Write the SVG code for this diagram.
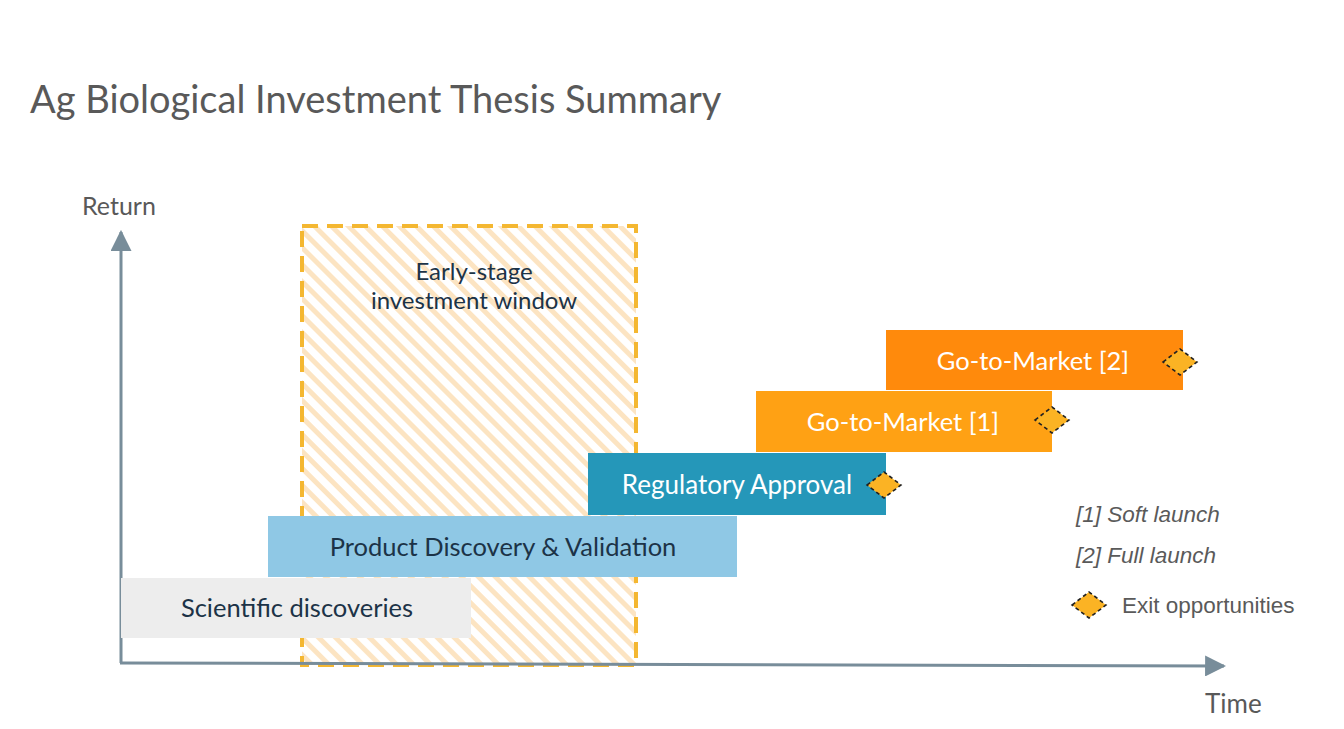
<svg xmlns="http://www.w3.org/2000/svg" width="1344" height="729" viewBox="0 0 1344 729">
<defs>
<pattern id="hatch" patternUnits="userSpaceOnUse" width="12" height="12" patternTransform="rotate(-45)">
<rect width="12" height="12" fill="#ffffff"/>
<rect x="0" y="0" width="5" height="12" fill="#fce4c2"/>
</pattern>
<marker id="arr" viewBox="0 0 10 10" refX="9" refY="5" markerWidth="7" markerHeight="7" markerUnits="strokeWidth" orient="auto">
<path d="M0,0 L10,5 L0,10 z" fill="#788d9a"/>
</marker>
<path id="dia" d="M-17,0 L0,-13 L17,0 L0,13 z"/>
</defs>
<style>
.axis{stroke:#788d9a;stroke-width:3;fill:none}
.lbl{font-family:Lato,"Open Sans",sans-serif;font-size:25.5px;text-anchor:middle}
.win{font-size:24px}
.reg{font-size:26px}
.dark{fill:#1c3347}
.light{fill:#ffffff}
.ex{fill:#fbb324;stroke:#222;stroke-width:1.6;stroke-dasharray:4 3}
.leg{font-family:"Liberation Sans",Arial,sans-serif;font-size:22.5px;fill:#5a5a5a}
</style>
<rect width="1344" height="729" fill="#ffffff"/>
<text x="30" y="113" font-family="Lato,'Open Sans',sans-serif" font-size="38" fill="#595959">Ag Biological Investment Thesis Summary</text>
<text x="82" y="215" font-family="Lato,'Open Sans',sans-serif" font-size="25" fill="#595959">Return</text>
<text x="1205" y="713" font-family="Lato,'Open Sans',sans-serif" font-size="26" fill="#595959">Time</text>
<g id="window">
<rect x="302" y="226" width="334" height="439" fill="url(#hatch)" stroke="#f4b731" stroke-width="4" stroke-dasharray="16 9"/>
<text class="lbl win dark" x="474" y="280">Early-stage</text>
<text class="lbl win dark" x="474" y="309">investment window</text>
</g>
<g id="connectors">
<line class="axis" x1="121" y1="663" x2="121" y2="232" marker-end="url(#arr)"/>
<line class="axis" x1="120" y1="663" x2="1224" y2="666" marker-end="url(#arr)"/>
</g>
<g id="scientific">
<rect x="121" y="578" width="350" height="60" fill="#ededed"/>
<text class="lbl dark" x="297" y="617">Scientific discoveries</text>
</g>
<g id="product">
<rect x="268" y="516" width="469" height="61" fill="#8fc8e5"/>
<text class="lbl dark" x="503" y="556">Product Discovery &amp; Validation</text>
</g>
<g id="regulatory">
<rect x="588" y="453" width="298" height="62" fill="#2597b9"/>
<text class="lbl reg light" x="737" y="494">Regulatory Approval</text>
<use href="#dia" class="ex" x="884" y="485"/>
</g>
<g id="gtm1">
<rect x="756" y="391" width="296" height="61" fill="#ffa114"/>
<text class="lbl light" x="903" y="431">Go-to-Market [1]</text>
<use href="#dia" class="ex" x="1052" y="420"/>
</g>
<g id="gtm2">
<rect x="886" y="330" width="297" height="60" fill="#ff8a0c"/>
<text class="lbl light" x="1033" y="370">Go-to-Market [2]</text>
<use href="#dia" class="ex" x="1180" y="362"/>
</g>
<g id="legend">
<text class="leg" x="1076" y="522" font-style="italic">[1] Soft launch</text>
<text class="leg" x="1076" y="563" font-style="italic">[2] Full launch</text>
<use href="#dia" class="ex" x="1089" y="605"/>
<text class="leg" x="1122" y="613">Exit opportunities</text>
</g>
</svg>
